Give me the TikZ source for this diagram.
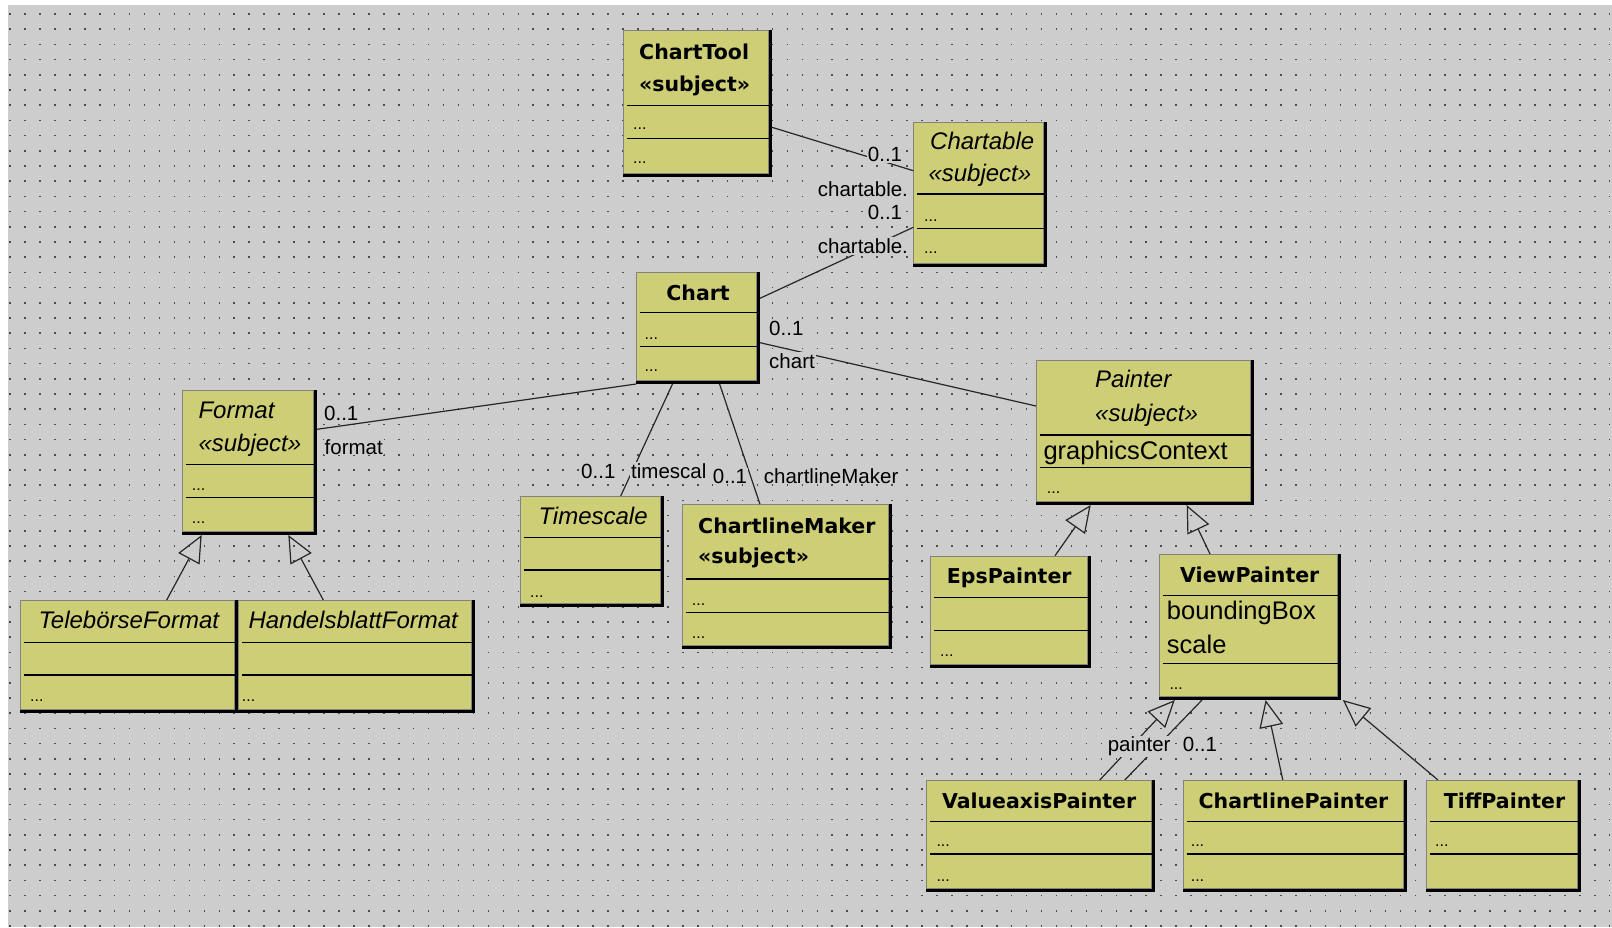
\documentclass[tikz,border=0pt]{standalone}
\usepackage{fontspec}
\setmainfont{Liberation Sans}
\newfontfamily\dvs{DejaVu Sans}
\usetikzlibrary{arrows.meta}
\definecolor{bgc}{RGB}{205,205,205}
\definecolor{clsfill}{RGB}{206,206,118}
\definecolor{edgegray}{RGB}{130,130,130}
\tikzset{
  classbox/.style={anchor=north west, inner sep=0pt, outer sep=0pt, fill=black,
    path picture={
      \fill[clsfill] (path picture bounding box.north west) rectangle ([xshift=-3pt,yshift=3pt]path picture bounding box.south east);
      \draw[edgegray, line width=1pt] ([xshift=0.5pt,yshift=-0.5pt]path picture bounding box.north west) rectangle ([xshift=-3.5pt,yshift=3.5pt]path picture bounding box.south east);
    }},
  seprule/.style={draw=black, line width=1.5pt},
  clsname/.style={anchor=base west, inner sep=0pt, font=\dvs\bfseries\fontsize{20.5}{24}\selectfont},
  clsital/.style={anchor=base west, inner sep=0pt, font=\itshape\fontsize{24}{28}\selectfont},
  attr/.style={anchor=base west, inner sep=0pt, font=\fontsize{25.5}{30}\selectfont},
  ell/.style={anchor=base west, inner sep=0pt, font=\fontsize{16}{18}\selectfont},
  lbl/.style={anchor=base west, inner sep=1pt, fill=bgc, font=\fontsize{20.5}{24}\selectfont},
  conn/.style={draw=black!85, line width=1.2pt},
  gen/.style={conn, -{Triangle[open, length=27pt, width=24pt, line width=1.2pt]}},
  dotrow/.style={draw=black!70, line width=1.6pt, dash pattern=on 1.6pt off 13.35pt}
}
\newcommand{\umlclass}[7]{%
  \node[classbox, minimum width={#4-#2}, minimum height={#5-#3}] (#1) at (#2,#3) {};
  \draw[seprule] (#2+4,#6) -- (#4-3,#6);
  \draw[seprule] (#2+4,#7) -- (#4-3,#7);
}
\begin{document}
\begin{tikzpicture}[x=1pt,y=-1pt]
\useasboundingbox (0,0) rectangle (1612,927);
\fill[white] (0,0) rectangle (1612,927);
\fill[bgc] (8,5) rectangle (1612,927);
\foreach \k in {0,...,60} {\draw[dotrow] (9.2,{14+\k*15.2}) -- (1612,{14+\k*15.2});}

% classes
\umlclass{ctool}{623}{30}{772}{177}{105.7}{138.3}
\umlclass{ctable}{913.3}{121.7}{1047}{266.7}{194}{228.3}
\umlclass{chart}{636.2}{272}{760}{384}{312.7}{346.7}
\umlclass{format}{181.7}{390}{317}{535}{464.3}{497.3}
\umlclass{tele}{20}{600}{238.3}{713.3}{642.3}{675}
\umlclass{handel}{238.3}{600}{475}{713.3}{642.3}{675}
\umlclass{tscale}{520}{496}{664}{607.3}{537.7}{570}
\umlclass{clmaker}{681.7}{504.3}{891.7}{649.3}{579}{612.7}
\umlclass{painter}{1036}{360}{1254}{505}{435}{467.3}
\umlclass{eps}{930}{555.7}{1090.7}{668.3}{597.3}{630.7}
\umlclass{view}{1159.3}{554}{1340.5}{700}{595.7}{663.3}
\umlclass{vaxis}{926.3}{780}{1155.2}{891.7}{821.7}{854}
\umlclass{clpainter}{1182.5}{780}{1407.3}{891.7}{821.7}{854}
\umlclass{tiff}{1425.9}{780}{1581.2}{891.7}{821.7}{854}

% class texts
\node[clsname] (ctool-n) at (639,59) {ChartTool};
\node[clsname] (ctool-s) at (639,91) {«subject»};
\node[ell] (ctool-a) at (633,129.5) {...};
\node[ell] (ctool-o) at (633,163.5) {...};

\node[clsital] (ctable-n) at (930,149.3) {Chartable};
\node[clsital] (ctable-s) at (928.3,181.7) {«subject»};
\node[ell] (ctable-a) at (924,221) {...};
\node[ell] (ctable-o) at (924,253) {...};

\node[clsname] (chart-n) at (666.2,300.7) {Chart};
\node[ell] (chart-a) at (644.4,339.3) {...};
\node[ell] (chart-o) at (644.4,371.7) {...};

\node[clsital] (format-n) at (198.3,418.3) {Format};
\node[clsital] (format-s) at (198.3,451.7) {«subject»};
\node[ell] (format-a) at (191.7,490) {...};
\node[ell] (format-o) at (191.7,523) {...};

\node[clsital] (tele-n) at (38.3,628.3) {TelebörseFormat};
\node[ell] (tele-o) at (30,701) {...};
\node[clsital] (handel-n) at (248.3,628.3) {HandelsblattFormat};
\node[ell] (handel-o) at (241.7,701) {...};

\node[clsital] (tscale-n) at (538.3,524) {Timescale};
\node[ell] (tscale-o) at (530,597) {...};

\node[clsname] (clmaker-n) at (698,533.3) {ChartlineMaker};
\node[clsname] (clmaker-s) at (698,563.3) {«subject»};
\node[ell] (clmaker-a) at (691.7,605) {...};
\node[ell] (clmaker-o) at (691.7,638) {...};

\node[clsital] (painter-n) at (1095,387.7) {Painter};
\node[clsital] (painter-s) at (1095,421) {«subject»};
\node[attr] (painter-a) at (1043.3,459.3) {graphicsContext};
\node[ell] (painter-o) at (1046.7,493.3) {...};

\node[clsname] (eps-n) at (946.7,583.3) {EpsPainter};
\node[ell] (eps-o) at (940,656) {...};

\node[clsname] (view-n) at (1180,582.3) {ViewPainter};
\node[attr] (view-a1) at (1166.7,619.3) {boundingBox};
\node[attr] (view-a2) at (1166.7,653.3) {scale};
\node[ell] (view-o) at (1169.3,689) {...};

\node[clsname] (vaxis-n) at (941.8,808.3) {ValueaxisPainter};
\node[ell] (vaxis-a) at (936.3,846.7) {...};
\node[ell] (vaxis-o) at (936.3,881.7) {...};

\node[clsname] (clpainter-n) at (1198.4,808.3) {ChartlinePainter};
\node[ell] (clpainter-a) at (1190.6,846.7) {...};
\node[ell] (clpainter-o) at (1190.6,881.7) {...};

\node[clsname] (tiff-n) at (1443.6,808.3) {TiffPainter};
\node[ell] (tiff-a) at (1435,846.7) {...};

% associations
\draw[conn] ([yshift=-97.3pt]ctool.north east) -- ([yshift=-49pt]ctable.north west);
\draw[conn] ([yshift=-26.3pt]chart.north east) -- ([yshift=-105.6pt]ctable.north west);
\draw[conn] ([yshift=-70.7pt]chart.north east) -- ([yshift=-46pt]painter.north west);
\draw[conn] ([yshift=-39.3pt]format.north east) -- (chart.south west);
\draw[conn] ([xshift=36.3pt]chart.south west) -- ([xshift=100.7pt]tscale.north west);
\draw[conn] ([xshift=83.4pt]chart.south west) -- ([xshift=78.3pt]clmaker.north west);
\draw[conn] ([xshift=198.5pt]vaxis.north west) -- ([xshift=42.7pt]view.south west);

% generalizations
\draw[gen] ([xshift=146.7pt]tele.north west) -- ([xshift=20pt]format.south west);
\draw[gen] ([xshift=85pt]handel.north west) -- ([xshift=106.6pt]format.south west);
\draw[gen] ([xshift=125pt]eps.north west) -- ([xshift=54.7pt]painter.south west);
\draw[gen] ([xshift=50.7pt]view.north west) -- ([xshift=150.7pt]painter.south west);
\draw[gen] ([xshift=173.5pt]vaxis.north west) -- ([xshift=15.5pt]view.south west);
\draw[gen] ([xshift=100.3pt]clpainter.north west) -- ([xshift=106.3pt]view.south west);
\draw[gen] ([xshift=12.1pt]tiff.north west) -- ([xshift=2.3pt]view.south east);

% role labels
\node[lbl] (l1m) at (866.7,161.7) {0..1};
\node[lbl] (l1r) at (816.7,196) {chartable.};
\node[lbl] (l2m) at (866.7,219) {0..1};
\node[lbl] (l2r) at (816.7,253.3) {chartable.};
\node[lbl] (l3m) at (768,335) {0..1};
\node[lbl] (l3r) at (768,368.3) {chart};
\node[lbl] (l4m) at (323,420) {0..1};
\node[lbl] (l4r) at (323.5,454) {format};
\node[lbl] (l5m) at (580,478.3) {0..1};
\node[lbl] (l5r) at (630,478.3) {timescal};
\node[lbl] (l6m) at (711.7,483) {0..1};
\node[lbl] (l6r) at (762.7,483) {chartlineMaker};
\node[lbl] (l7r) at (1106.6,751.7) {painter};
\node[lbl] (l7m) at (1181.6,751.7) {0..1};
\end{tikzpicture}
\end{document}
